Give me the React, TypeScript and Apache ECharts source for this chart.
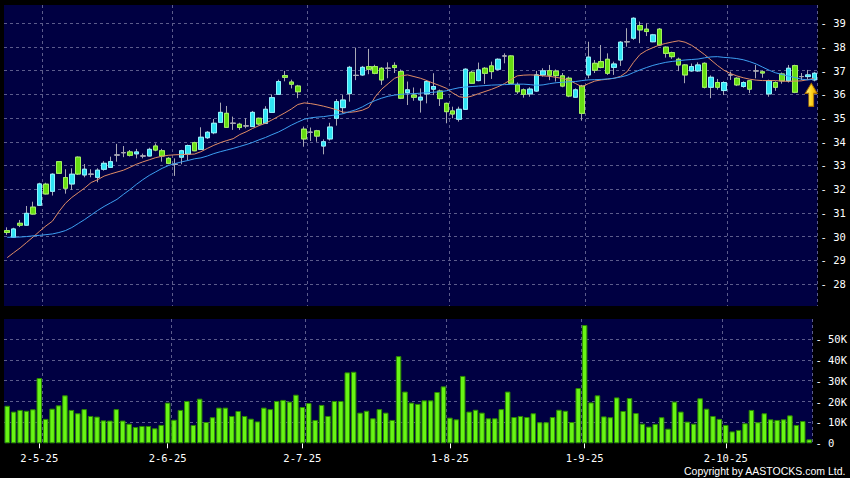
import React, { useEffect, useRef } from "react";
import * as echarts from "echarts";

const opens = [
  30.25, 29.97, 30.56, 30.48, 31.24, 31.32, 32.21, 31.91, 33.16, 32.49,
  32.22, 33.35, 32.60, 32.63, 32.50, 32.84, 32.92, 33.44, 33.54, 33.57,
  33.49, 33.40, 33.40, 33.82, 33.62, 33.30, 33.05, 33.35, 33.48, 33.96,
  33.68, 34.17, 34.38, 34.82, 35.20, 34.78, 34.74, 34.67, 34.64, 34.99,
  34.78, 35.24, 36.00, 36.79, 36.52, 36.35, 34.53, 34.40, 34.46, 33.82,
  34.12, 34.99, 35.44, 36.03, 36.80, 36.82, 37.17, 37.17, 37.10, 37.10,
  37.22, 36.96, 36.07, 35.97, 35.76, 36.02, 36.22, 36.14, 35.62, 35.30,
  34.95, 35.37, 36.93, 36.58, 37.10, 37.20, 37.06, 37.62, 37.62, 36.40,
  36.19, 36.02, 36.14, 36.82, 37.00, 36.98, 36.78, 36.68, 35.88, 36.35,
  36.82, 37.31, 37.38, 37.48, 37.14, 37.45, 38.22, 38.37, 38.90, 38.75,
  38.22, 38.75, 37.99, 37.76, 37.48, 37.24, 36.99, 36.99, 37.31, 36.30,
  36.50, 36.16, 36.82, 36.68, 36.33, 36.57, 36.99, 36.95, 36.02, 36.50,
  36.86, 36.57, 37.21, 36.75, 36.75, 36.61,
];
const closes = [
  30.17, 30.32, 30.48, 30.98, 30.95, 32.22, 31.80, 32.63, 32.67, 32.04,
  32.63, 32.64, 32.84, 32.63, 32.80, 33.09, 33.16, 33.44, 33.54, 33.43,
  33.57, 33.40, 33.68, 33.65, 33.40, 33.09, 33.05, 33.62, 33.84, 33.62,
  34.19, 34.40, 34.78, 35.24, 34.61, 34.78, 34.60, 34.67, 35.24, 34.75,
  35.37, 35.86, 36.54, 36.72, 36.43, 36.11, 34.12, 34.40, 34.24, 34.00,
  34.62, 35.69, 35.76, 37.14, 36.80, 37.14, 37.06, 36.89, 36.61, 37.10,
  37.13, 35.84, 36.19, 35.88, 35.88, 36.54, 36.33, 35.82, 35.27, 35.17,
  35.37, 37.06, 36.47, 37.03, 36.89, 36.96, 37.48, 37.62, 36.47, 36.11,
  36.00, 36.22, 36.82, 36.99, 36.81, 36.79, 36.35, 35.93, 36.19, 35.20,
  37.57, 37.02, 37.14, 36.89, 37.28, 38.20, 38.22, 39.21, 38.72, 38.65,
  38.51, 38.08, 37.73, 37.59, 37.24, 36.82, 37.17, 37.24, 36.30, 36.72,
  36.30, 36.50, 36.82, 36.40, 36.50, 36.22, 36.99, 36.90, 36.58, 36.30,
  36.57, 37.10, 36.09, 36.75, 36.82, 36.89,
];
const lows = [
  30.07, 29.95, 30.40, 30.46, 30.93, 31.30, 31.78, 31.73, 32.65, 31.81,
  31.97, 32.60, 32.50, 32.50, 32.29, 32.78, 32.90, 33.16, 33.35, 33.38,
  33.30, 33.30, 33.38, 33.60, 33.16, 33.05, 32.56, 33.05, 33.23, 33.60,
  33.66, 34.12, 34.32, 34.80, 34.58, 34.50, 34.50, 34.57, 34.62, 34.70,
  34.76, 35.22, 35.98, 36.55, 36.25, 35.84, 33.79, 34.03, 34.00, 33.47,
  34.05, 34.68, 35.20, 35.69, 36.60, 36.78, 36.85, 36.85, 36.40, 36.68,
  36.90, 35.80, 35.55, 35.73, 35.23, 35.62, 35.97, 35.51, 34.78, 34.99,
  34.85, 35.35, 36.45, 36.55, 36.44, 36.65, 37.00, 37.31, 36.45, 36.02,
  35.86, 35.90, 36.10, 36.75, 36.60, 36.54, 36.30, 35.88, 35.85, 34.89,
  36.68, 36.90, 37.10, 36.82, 36.82, 37.20, 38.01, 38.30, 38.16, 38.46,
  38.20, 38.05, 37.55, 37.50, 36.98, 36.47, 36.95, 36.95, 36.25, 35.84,
  36.20, 35.97, 36.61, 36.35, 36.28, 36.05, 36.68, 36.70, 35.90, 36.15,
  36.45, 36.50, 36.05, 36.60, 36.61, 36.55,
];
const highs = [
  30.39, 30.37, 30.70, 31.29, 31.47, 32.27, 32.27, 32.67, 33.18, 32.84,
  32.88, 33.38, 33.06, 32.84, 32.88, 33.18, 33.37, 33.91, 33.82, 33.65,
  33.70, 33.50, 33.75, 33.93, 33.70, 33.35, 33.30, 33.66, 33.88, 34.00,
  34.61, 34.45, 34.96, 35.65, 35.51, 35.06, 34.80, 34.99, 35.30, 35.02,
  35.50, 36.00, 36.62, 36.99, 36.62, 36.40, 34.64, 34.60, 34.50, 34.10,
  34.80, 35.80, 35.97, 37.20, 37.97, 37.20, 37.92, 37.25, 37.15, 37.35,
  37.35, 37.05, 36.54, 36.29, 36.25, 36.60, 36.89, 36.20, 35.65, 35.48,
  35.48, 37.10, 37.00, 37.34, 37.15, 37.38, 37.52, 37.73, 37.65, 36.50,
  36.25, 36.30, 36.99, 37.10, 37.24, 37.05, 36.90, 36.75, 36.25, 36.40,
  38.22, 37.45, 38.08, 37.73, 37.38, 38.25, 38.79, 39.25, 39.07, 39.00,
  38.55, 38.80, 38.02, 37.80, 37.55, 37.28, 37.30, 37.35, 37.35, 36.80,
  36.65, 36.55, 36.96, 36.72, 36.55, 36.60, 37.24, 37.00, 36.62, 36.55,
  36.92, 37.24, 37.25, 36.90, 37.03, 36.95,
];
// volume in thousands of shares
const volumes = [
  18.0, 15.2, 16.0, 15.6, 16.3, 31.3, 11.7, 16.6, 18.2, 23.0,
  16.0, 14.4, 16.4, 13.1, 12.8, 11.0, 10.9, 16.4, 10.9, 9.4,
  7.8, 8.3, 8.3, 7.2, 8.8, 19.5, 11.3, 16.0, 20.3, 8.8,
  21.4, 10.2, 12.5, 17.1, 17.1, 13.1, 15.5, 13.1, 11.8, 10.5,
  17.1, 16.4, 20.3, 20.8, 20.0, 23.3, 17.4, 19.3, 11.2, 18.4,
  13.1, 20.3, 20.3, 34.0, 34.3, 14.7, 15.6, 12.0, 16.4, 14.7,
  11.2, 41.8, 24.8, 19.5, 18.9, 20.6, 20.6, 24.6, 27.3, 12.3,
  11.5, 32.3, 15.2, 16.1, 14.7, 12.0, 12.0, 16.4, 24.8, 12.6,
  13.1, 12.6, 14.4, 10.1, 10.1, 12.6, 16.1, 15.6, 10.2, 26.5,
  56.7, 19.6, 23.0, 12.9, 12.5, 22.0, 15.5, 21.7, 14.5, 9.4,
  8.0, 9.3, 12.5, 7.0, 20.0, 15.2, 10.4, 9.4, 21.6, 16.6,
  13.1, 11.7, 8.8, 5.7, 6.4, 9.6, 16.0, 10.1, 14.4, 11.5,
  11.2, 11.5, 13.4, 8.8, 10.7, 1.9,
];
const maShort = [
  29.11, 29.32, 29.52, 29.75, 29.98, 30.22, 30.45, 30.65, 31.05, 31.40,
  31.65, 31.85, 32.05, 32.28, 32.40, 32.55, 32.64, 32.72, 32.80, 32.92,
  33.05, 33.15, 33.24, 33.33, 33.39, 33.43, 33.45, 33.46, 33.47, 33.48,
  33.58, 33.72, 33.85, 33.96, 34.05, 34.13, 34.30, 34.42, 34.56, 34.68,
  34.78, 34.92, 35.07, 35.22, 35.38, 35.57, 35.64, 35.61, 35.56, 35.50,
  35.43, 35.35, 35.25, 35.24, 35.27, 35.33, 35.45, 35.90, 36.22, 36.45,
  36.68, 36.78, 36.82, 36.75, 36.68, 36.58, 36.47, 36.37, 36.26, 36.06,
  35.90, 35.86, 35.93, 36.03, 36.12, 36.21, 36.32, 36.45, 36.62, 36.78,
  36.81, 36.82, 36.81, 36.78, 36.76, 36.72, 36.67, 36.60, 36.46, 36.32,
  36.45, 36.56, 36.61, 36.64, 36.68, 36.76, 36.95, 37.35, 37.68, 37.85,
  37.97, 38.08, 38.15, 38.21, 38.26, 38.20, 38.07, 37.88, 37.68, 37.45,
  37.22, 37.02, 36.88, 36.78, 36.70, 36.64, 36.60, 36.58, 36.58, 36.58,
  36.56, 36.55, 36.56, 36.57, 36.62, 36.68,
];
const maLong = [
  29.97, 29.97, 29.98, 30.00, 30.03, 30.05, 30.08, 30.11, 30.17, 30.25,
  30.38, 30.55, 30.72, 30.91, 31.10, 31.27, 31.42, 31.57, 31.78, 31.98,
  32.20, 32.40, 32.58, 32.73, 32.88, 33.00, 33.08, 33.15, 33.21, 33.28,
  33.32, 33.40, 33.50, 33.58, 33.65, 33.72, 33.80, 33.88, 33.97, 34.08,
  34.18, 34.30, 34.41, 34.55, 34.70, 34.83, 34.95, 35.01, 35.04, 35.06,
  35.10, 35.14, 35.18, 35.27, 35.35, 35.47, 35.62, 35.74, 35.84, 35.92,
  35.97, 36.00, 36.02, 36.03, 36.05, 36.07, 36.09, 36.11, 36.15, 36.22,
  36.28, 36.31, 36.33, 36.35, 36.37, 36.39, 36.40, 36.41, 36.42, 36.43,
  36.43, 36.41, 36.38, 36.40, 36.45, 36.49, 36.51, 36.53, 36.54, 36.58,
  36.61, 36.62, 36.63, 36.65, 36.68, 36.73, 36.80, 36.92, 37.03, 37.13,
  37.22, 37.29, 37.35, 37.39, 37.42, 37.45, 37.47, 37.49, 37.54, 37.58,
  37.59, 37.56, 37.54, 37.51, 37.46, 37.38, 37.28, 37.15, 37.02, 36.91,
  36.84, 36.77, 36.71, 36.64, 36.61, 36.64,
];
const tickLabels = ["2-5-25", "2-6-25", "2-7-25", "1-8-25", "1-9-25", "2-10-25"];
const tickIndex = [5, 25, 46, 69, 90, 112];
const gridLineIndex = [6, 26, 47, 69, 90, 112];
const arrowPrice = 35.98;
const copyright = "Copyright by AASTOCKS.com Ltd.";

const NAVY = "#000042";
const GRID_C = "#5c5c8c";
const WICK = "#a8a8b4";
const UP = "#2fe3f2";
const UP_B = "#8ef4ff";
const DOWN = "#66dd12";
const DOWN_B = "#a2f55a";
const MONO = "'DejaVu Sans Mono', monospace";

export default function App() {
  const ref = useRef<HTMLDivElement>(null);
  useEffect(() => {
    if (!ref.current) return;
    const chart = echarts.init(ref.current, null, { renderer: "svg" });
    const n = opens.length;
    const cats = opens.map((_, i) => String(i));
    const ohlc = opens.map((o, i) => [o, closes[i], lows[i], highs[i]]);
    const bodies = opens.map((o, i) => [o, closes[i], Math.min(o, closes[i]), Math.max(o, closes[i])]);
    const split = {
      show: true,
      interval: (i: number) => gridLineIndex.includes(i),
      lineStyle: { color: GRID_C, type: [3, 3], width: 1 },
    };
    const hSplit = {
      show: true,
      showMinLine: false,
      showMaxLine: false,
      lineStyle: { color: GRID_C, type: [3, 3], width: 1 },
    };
    const labelStyle = { color: "#ffffff", fontFamily: MONO, fontSize: 10.5 };
    const option: any = {
      animation: false,
      backgroundColor: "#000000",
      grid: [
        { left: 4, top: 5, width: 813.5, height: 301, show: true, backgroundColor: NAVY, borderWidth: 0 },
        { left: 4, top: 319, width: 813.5, height: 124.3, show: true, backgroundColor: NAVY, borderWidth: 0 },
      ],
      xAxis: [
        {
          type: "category", gridIndex: 0, data: cats, boundaryGap: true,
          axisLine: { show: false }, axisTick: { show: false }, axisLabel: { show: false },
          splitLine: split,
        },
        {
          type: "category", gridIndex: 1, data: cats, boundaryGap: true,
          axisLine: { show: false },
          axisTick: {
            show: true, alignWithLabel: true, length: 5,
            interval: (i: number) => tickIndex.includes(i),
            lineStyle: { color: "#ffffff" },
          },
          axisLabel: {
            show: true, margin: 9, ...labelStyle,
            interval: (i: number) => tickIndex.includes(i),
            formatter: (v: string) => {
              const k = tickIndex.indexOf(Number(v));
              return k >= 0 ? tickLabels[k] : "";
            },
          },
          splitLine: split,
        },
      ],
      yAxis: [
        {
          type: "value", gridIndex: 0, position: "right", min: 27.07, max: 39.77, splitNumber: 12,
          axisLine: { show: false }, axisTick: { show: false },
          axisLabel: {
            margin: 3, ...labelStyle, showMinLabel: false, showMaxLabel: false,
            formatter: (v: number) => "- " + v,
          },
          splitLine: hSplit,
        },
        {
          type: "value", gridIndex: 1, position: "right", min: 0, max: 59.6, interval: 10,
          axisLine: { show: false }, axisTick: { show: false },
          axisLabel: {
            margin: 3, ...labelStyle, showMaxLabel: false,
            formatter: (v: number) => (v === 0 ? "- 0" : "- " + v + "K"),
          },
          splitLine: hSplit,
        },
      ],
      series: [
        {
          type: "candlestick", xAxisIndex: 0, yAxisIndex: 0, data: ohlc, barWidth: 5,
          itemStyle: {
            color: WICK, color0: WICK, borderColor: WICK, borderColor0: WICK,
            borderColorDoji: WICK, borderWidth: 1,
          },
        },
        {
          type: "candlestick", xAxisIndex: 0, yAxisIndex: 0, data: bodies, barWidth: 5,
          itemStyle: {
            color: UP, color0: DOWN, borderColor: UP_B, borderColor0: DOWN_B,
            borderColorDoji: WICK, borderWidth: 1,
          },
          markPoint: {
            symbol: "path://M6,0 L12,10 L8.5,10 L8.5,23 L3.5,23 L3.5,10 L0,10 Z",
            symbolSize: [12, 23],
            symbolOffset: [-3, 0],
            label: { show: false },
            itemStyle: {
              color: new echarts.graphic.LinearGradient(0, 0, 1, 0, [
                { offset: 0, color: "#fff7a0" },
                { offset: 0.5, color: "#ffd51e" },
                { offset: 1, color: "#e9a000" },
              ]),
              borderColor: "#a86c00",
              borderWidth: 1,
            },
            data: [{ coord: [n - 1, arrowPrice] }],
          },
        },
        {
          type: "line", xAxisIndex: 0, yAxisIndex: 0, data: maShort, showSymbol: false,
          lineStyle: { color: "#e08c66", width: 1 }, z: 3,
        },
        {
          type: "line", xAxisIndex: 0, yAxisIndex: 0, data: maLong, showSymbol: false,
          lineStyle: { color: "#3d9ff2", width: 1 }, z: 3,
        },
        {
          type: "bar", xAxisIndex: 1, yAxisIndex: 1, data: volumes, barWidth: 5.5,
          itemStyle: { color: "#68f515", borderColor: "#2c8a00", borderWidth: 1 },
        },
      ],
      graphic: [
        {
          type: "text", right: 4, top: 465,
          style: { text: copyright, fill: "#ffffff", font: "10.5px 'Liberation Sans', Arial, sans-serif" },
        },
      ],
    };
    chart.setOption(option);
    return () => chart.dispose();
  }, []);
  return (
    <div
      ref={ref}
      style={{ position: "absolute", left: 0, top: 0, width: 850, height: 478, background: "#000" }}
    />
  );
}
